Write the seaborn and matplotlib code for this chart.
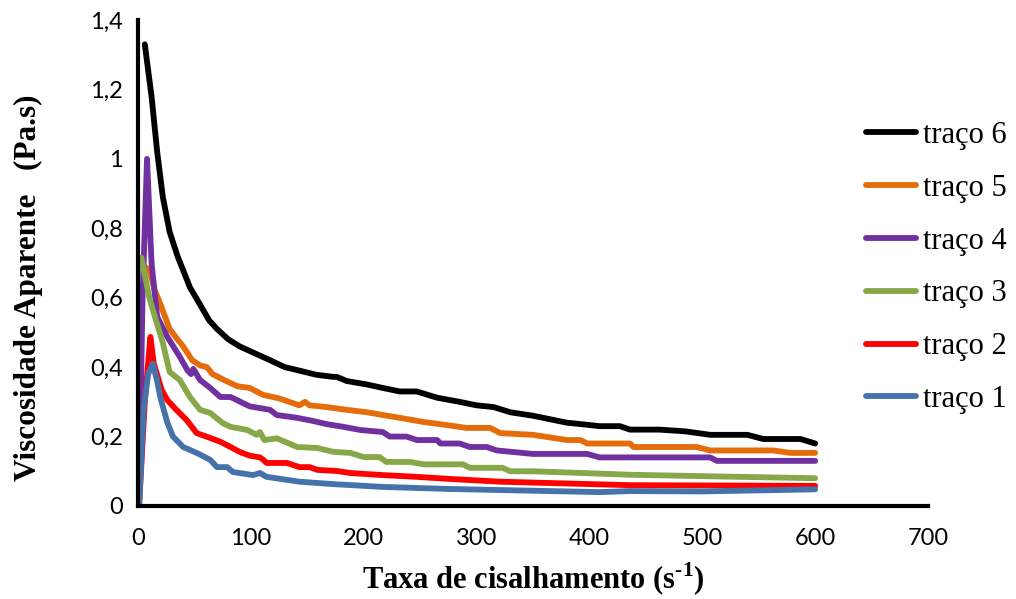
import numpy as np
import pandas as pd
import matplotlib
matplotlib.use("Agg")
import matplotlib.pyplot as plt
import seaborn as sns

# Apparent viscosity (Pa.s) versus shear rate (1/s) for six mixes
x6 = [6, 12, 17, 22, 28, 35, 46, 55, 63, 70, 80, 90, 100, 117, 130, 143, 158, 173,
      176, 185, 203, 217, 232, 247, 265, 285, 300, 315, 330, 350, 365, 380, 395,
      409, 427, 436, 462, 485, 507, 540, 554, 587, 600]
y6 = [1.33, 1.18, 1.02, 0.89, 0.79, 0.72, 0.63, 0.58, 0.535, 0.51, 0.48, 0.46,
      0.445, 0.42, 0.40, 0.39, 0.378, 0.372, 0.372, 0.36, 0.35, 0.34, 0.33, 0.33,
      0.312, 0.30, 0.29, 0.285, 0.27, 0.26, 0.25, 0.24, 0.235, 0.23, 0.23, 0.22,
      0.22, 0.215, 0.205, 0.205, 0.193, 0.193, 0.18]

x5 = [3, 10, 15, 20, 28, 35, 40, 48, 55, 61, 66, 75, 88, 99, 111, 125, 143, 148,
      152, 167, 185, 203, 217, 232, 253, 274, 291, 312, 321, 350, 380, 392, 398,
      436, 439, 495, 507, 563, 578, 600]
y5 = [0.695, 0.68, 0.62, 0.58, 0.51, 0.48, 0.46, 0.42, 0.405, 0.40, 0.38, 0.365,
      0.345, 0.34, 0.32, 0.31, 0.29, 0.30, 0.29, 0.285, 0.277, 0.27, 0.262, 0.254,
      0.242, 0.233, 0.225, 0.225, 0.21, 0.205, 0.19, 0.19, 0.18, 0.18, 0.17, 0.17,
      0.16, 0.16, 0.153, 0.153]

x4 = [1, 4, 8, 12, 17, 26, 37, 44, 47, 49, 55, 64, 73, 82, 99, 117, 123, 141, 155,
      167, 182, 197, 217, 223, 238, 247, 265, 268, 285, 294, 309, 318, 350, 398,
      409, 507, 513, 600]
y4 = [0.02, 0.60, 1.00, 0.70, 0.545, 0.487, 0.43, 0.39, 0.38, 0.395, 0.363, 0.34,
      0.314, 0.314, 0.287, 0.277, 0.262, 0.254, 0.245, 0.236, 0.228, 0.219, 0.213,
      0.20, 0.20, 0.19, 0.19, 0.18, 0.18, 0.17, 0.17, 0.16, 0.15, 0.15, 0.14,
      0.14, 0.13, 0.13]

x3 = [3, 10, 15, 22, 28, 37, 46, 55, 64, 75, 82, 97, 105, 108, 112, 123, 141, 159,
      173, 188, 200, 214, 220, 241, 253, 288, 294, 323, 330, 350, 394, 436, 500,
      600]
y3 = [0.715, 0.60, 0.545, 0.47, 0.386, 0.363, 0.314, 0.277, 0.268, 0.239, 0.228,
      0.219, 0.205, 0.213, 0.19, 0.195, 0.17, 0.167, 0.156, 0.153, 0.141, 0.141,
      0.127, 0.127, 0.12, 0.12, 0.11, 0.11, 0.10, 0.10, 0.095, 0.09, 0.086, 0.08]

x2 = [1, 6, 11, 14, 21, 26, 34, 43, 52, 64, 73, 82, 90, 99, 108, 111, 114, 132,
      143, 152, 159, 176, 188, 217, 247, 276, 321, 436, 600]
y2 = [0.0, 0.30, 0.487, 0.41, 0.334, 0.305, 0.277, 0.248, 0.21, 0.196, 0.185,
      0.17, 0.156, 0.145, 0.14, 0.133, 0.124, 0.124, 0.112, 0.112, 0.104, 0.101,
      0.095, 0.089, 0.084, 0.078, 0.07, 0.06, 0.058]

x1 = [1, 5, 9, 13, 17, 20, 26, 31, 40, 52, 64, 70, 79, 84, 102, 108, 114, 143,
      173, 217, 276, 291, 409, 436, 500, 600]
y1 = [0.0, 0.28, 0.38, 0.41, 0.36, 0.31, 0.24, 0.20, 0.17, 0.153, 0.133, 0.112,
      0.112, 0.098, 0.089, 0.095, 0.084, 0.07, 0.063, 0.055, 0.049, 0.048, 0.04,
      0.043, 0.042, 0.048]

series_names = ["traço 6", "traço 5", "traço 4", "traço 3", "traço 2", "traço 1"]
series_x = [x6, x5, x4, x3, x2, x1]
series_y = [y6, y5, y4, y3, y2, y1]
colors = ["#000000", "#E46C0A", "#7030A0", "#86A848", "#FF0000", "#4672AA"]

x_ticks = [0, 100, 200, 300, 400, 500, 600, 700]
y_ticks = [0, 0.2, 0.4, 0.6, 0.8, 1.0, 1.2, 1.4]
y_tick_labels = ["0", "0,2", "0,4", "0,6", "0,8", "1", "1,2", "1,4"]

frames = [pd.DataFrame({"taxa": xs, "visc": ys, "serie": name})
          for name, xs, ys in zip(series_names, series_x, series_y)]
df = pd.concat(frames, ignore_index=True)

sns.set_style("white")
plt.rcParams["font.family"] = ["Liberation Serif", "DejaVu Serif"]
plt.rcParams["text.color"] = "black"
plt.rcParams["axes.labelcolor"] = "black"
plt.rcParams["xtick.color"] = "black"
plt.rcParams["ytick.color"] = "black"
plt.rcParams["mathtext.fontset"] = "custom"
plt.rcParams["mathtext.bf"] = "Liberation Serif:bold"
plt.rcParams["mathtext.rm"] = "Liberation Serif:bold"

fig = plt.figure(figsize=(10.16, 5.99), dpi=100)
ax = fig.add_axes([138 / 1016, 1 - 506 / 599, 790 / 1016, 486 / 599])

sns.lineplot(data=df, x="taxa", y="visc", hue="serie", hue_order=series_names,
             palette=dict(zip(series_names, colors)), estimator=None, sort=False,
             linewidth=4.2, legend=False, ax=ax)
for ln in ax.lines:
    ln.set_solid_capstyle("round")
    ln.set_solid_joinstyle("round")

ax.set_xlim(0, 700)
ax.set_ylim(0, 1.4)
ax.set_xticks(x_ticks)
ax.set_yticks(y_ticks)
ax.set_yticklabels(y_tick_labels)
for lab in ax.get_xticklabels() + ax.get_yticklabels():
    lab.set_fontfamily(["Lato", "DejaVu Sans"])
    lab.set_fontsize(17)
    lab.set_color("black")
ax.tick_params(axis="both", direction="out", length=6, width=2.5, color="black")
ax.tick_params(axis="x", pad=10)
ax.tick_params(axis="y", pad=5)

for side in ["top", "right"]:
    ax.spines[side].set_visible(False)
for side in ["left", "bottom"]:
    ax.spines[side].set_color("black")
    ax.spines[side].set_linewidth(3)

ax.set_xlabel("Taxa de cisalhamento (s$^{\\text{-1}}$)", fontsize=22,
              fontweight="bold", va="center")
ax.xaxis.set_label_coords(0.5, -0.152)
ax.set_ylabel("Viscosidade Aparente   (Pa.s)", fontsize=22.5, fontweight="bold",
              va="center")
ax.yaxis.set_label_coords(-0.139, 0.449)

handles = list(ax.lines)
leg = ax.legend(handles, series_names, loc="upper left",
                bbox_to_anchor=(866 / 1016, 1 - 121 / 599),
                bbox_transform=fig.transFigure, frameon=False,
                fontsize=22, handlelength=1.65, handletextpad=0.2,
                labelspacing=0.78, borderpad=0, borderaxespad=0)

fig.savefig("out.png", dpi=100)
